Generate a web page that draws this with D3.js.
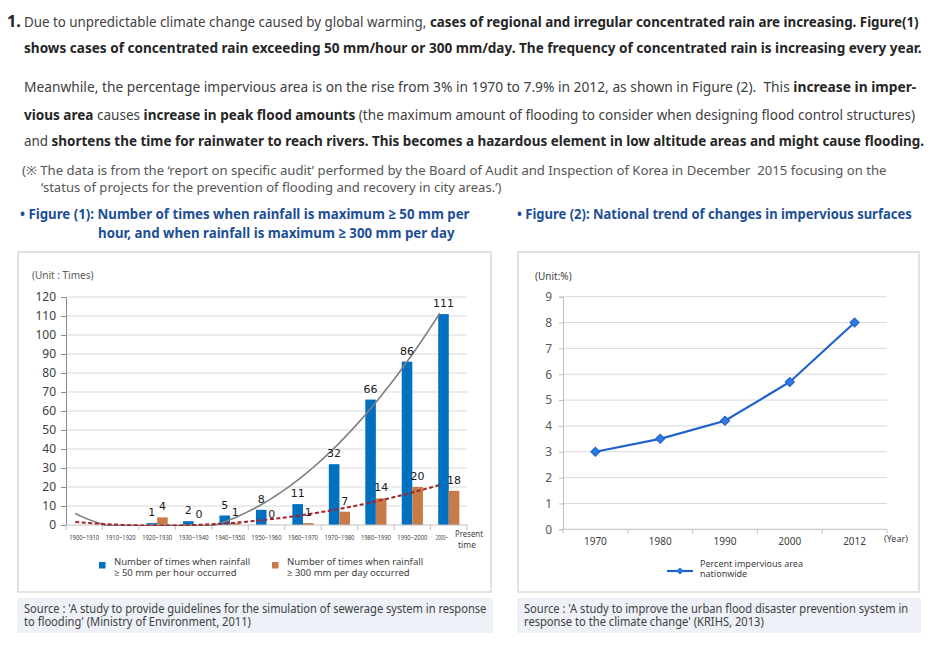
<!DOCTYPE html>
<html>
<head>
<meta charset="utf-8">
<script src="https://cdn.jsdelivr.net/npm/d3@7"></script>
<style>
  body { margin: 0; background: #fff; }
  svg { display: block; }
</style>
</head>
<body>
<div class="canvas"></div>
<script>
// figure (1) data
const periods = ["1900~1910", "1910~1920", "1920~1930", "1930~1940", "1940~1950", "1950~1960",
  "1960~1970", "1970~1980", "1980~1990", "1990~2000", "2000~"];
const over50PerHour = [0, 0, 1, 2, 5, 8, 11, 32, 66, 86, 111];
const over300PerDay = [0, 0, 4, 0, 1, 0, 1, 7, 14, 20, 18];
const hasRecord = [false, false, true, true, true, true, true, true, true, true, true];
const timesTicks = [0, 10, 20, 30, 40, 50, 60, 70, 80, 90, 100, 110, 120];

// figure (2) data
const years = ["1970", "1980", "1990", "2000", "2012"];
const impervious = [3.0, 3.5, 4.2, 5.7, 8.0];
const pctTicks = [0, 1, 2, 3, 4, 5, 6, 7, 8, 9];

const W = 940, H = 648;
const svg = d3.select(".canvas").append("svg").attr("width", W).attr("height", H);

const txt = "#404040";
const bold = "#262626";
const bodyFont = "'Noto Sans', 'Open Sans', sans-serif";
const chartFont = "'Noto Sans', 'Open Sans', sans-serif";

// squeeze a text horizontally so it spans w pixels (the source uses a narrow font)
function fit(t, x, y, w, anchor = "start") {
  const n = t.node().getComputedTextLength();
  const k = n > 0 ? w / n : 1;
  t.attr("x", 0).attr("y", 0).attr("text-anchor", anchor)
    .attr("transform", `translate(${x},${y}) scale(${k},1)`);
  return t;
}

// ---------- header paragraphs ----------
// each line: [x, baseline, width, size, colour, [ [text, isBold], ... ]]
const lines = [
  [24, 27, 896, 15, txt, [["Due to unpredictable climate change caused by global warming, ", false],
    ["cases of regional and irregular concentrated rain are increasing. Figure(1)", true]]],
  [24, 53, 898, 15, txt, [["shows cases of concentrated rain exceeding 50 mm/hour or 300 mm/day. The frequency of concentrated rain is increasing every year.", true]]],
  [24, 92, 893, 15, txt, [["Meanwhile, the percentage impervious area is on the rise from 3% in 1970 to 7.9% in 2012, as shown in Figure (2).  This ", false],
    ["increase in imper-", true]]],
  [24, 120, 892, 15, txt, [["vious area", true], [" causes ", false], ["increase in peak flood amounts", true],
    [" (the maximum amount of flooding to consider when designing flood control structures)", false]]],
  [24, 146, 901, 15, txt, [["and ", false],
    ["shortens the time for rainwater to reach rivers. This becomes a hazardous element in low altitude areas and might cause flooding.", true]]],
  [22, 175, 866, 13, "#555", [["(※ The data is from the ‘report on specific audit’ performed by the Board of Audit and Inspection of Korea in December  2015 focusing on the", false]]],
  [41, 192, 461, 13, "#555", [["‘status of projects for the prevention of flooding and recovery in city areas.’)", false]]],
];

fit(svg.append("text").attr("font-family", bodyFont).attr("font-size", 16)
  .attr("font-weight", "bold").attr("fill", bold).text("1."), 7, 27, 14);

lines.forEach(([x, y, w, size, col, parts]) => {
  const t = svg.append("text").attr("font-family", bodyFont)
    .attr("font-size", size).attr("fill", col).style("white-space", "pre");
  parts.forEach(([s, b]) => {
    t.append("tspan").attr("font-weight", b ? "bold" : "normal").attr("fill", b ? bold : col).text(s);
  });
  fit(t, x, y, w);
});

// figure titles
const titleCol = "#1d4f96";
const titles = [
  [20, 219, 450, "• Figure (1): Number of times when rainfall is maximum ≥ 50 mm per"],
  [98, 238, 357, "hour, and when rainfall is maximum ≥ 300 mm per day"],
  [517, 219, 395, "• Figure (2): National trend of changes in impervious surfaces"],
];
titles.forEach(([x, y, w, s]) => {
  fit(svg.append("text").attr("font-family", bodyFont).attr("font-size", 14.5)
    .attr("font-weight", "bold").attr("fill", titleCol).text(s), x, y, w);
});

// ---------- panels and source boxes ----------
const panels = [[18, 252, 473, 340], [518, 252, 401, 340]];
panels.forEach(([x, y, w, h]) => {
  svg.append("rect").attr("x", x).attr("y", y).attr("width", w).attr("height", h)
    .attr("fill", "#fff").attr("stroke", "#d9d9d9").attr("stroke-width", 1.5);
});

const sources = [
  [17, 476, ["Source : 'A study to provide guidelines for the simulation of sewerage system in response", "to flooding' (Ministry of Environment, 2011)"], [463, 227]],
  [517, 404, ["Source : 'A study to improve the urban flood disaster prevention system in", "response to the climate change' (KRIHS, 2013)"], [385, 240]],
];
sources.forEach(([x, w, ls, lens]) => {
  svg.append("rect").attr("x", x).attr("y", 598).attr("width", w).attr("height", 35).attr("fill", "#eef2f8");
  ls.forEach((s, i) => {
    fit(svg.append("text").attr("font-family", chartFont).attr("font-size", 12).attr("fill", txt).text(s),
      x + 7, 613 + i * 13, lens[i]);
  });
});

// ---------- figure (1): clustered bars ----------
const p1 = { left: 66, right: 467, top: 297, bottom: 525 };
const x = d3.scaleBand().domain(periods).range([p1.left, p1.right]);
const bw = x.bandwidth();
const series = ["hour", "day"];
const x1 = d3.scaleBand().domain(series).range([bw * 0.21, bw * 0.79]);
const y = d3.scaleLinear().domain([0, 120]).range([p1.bottom, p1.top]);
const colour = d3.scaleOrdinal().domain(series).range(["#0070c0", "#c87b48"]);

const g1 = svg.append("g");

// gridlines
g1.selectAll("line.grid").data(timesTicks.slice(1)).enter().append("line")
  .attr("x1", p1.left).attr("x2", p1.right).attr("y1", d => y(d)).attr("y2", d => y(d))
  .attr("stroke", "#d9d9d9").attr("stroke-width", 1);

const yAxis1 = g1.append("g").attr("transform", `translate(${p1.left},0)`)
  .call(d3.axisLeft(y).tickValues(timesTicks).tickSize(5).tickPadding(5));
yAxis1.select(".domain").attr("stroke", "#8c8c8c");
yAxis1.selectAll(".tick line").attr("stroke", "#8c8c8c");
yAxis1.selectAll("text").attr("font-family", chartFont).attr("font-size", 12).attr("fill", txt);

// bars
const rows = periods.map((p, i) => ({ p, i, hour: over50PerHour[i], day: over300PerDay[i] }));
const groups = g1.selectAll("g.cat").data(rows).enter().append("g")
  .attr("transform", d => `translate(${x(d.p)},0)`);
groups.selectAll("rect").data(d => series.map(k => ({ k, v: d[k] }))).enter().append("rect")
  .attr("x", d => x1(d.k)).attr("width", x1.bandwidth())
  .attr("y", d => y(d.v)).attr("height", d => y(0) - y(d.v))
  .attr("fill", d => colour(d.k));

// x axis (ticks between categories)
g1.append("line").attr("x1", p1.left).attr("x2", p1.right).attr("y1", p1.bottom).attr("y2", p1.bottom)
  .attr("stroke", "#bfbfbf");
g1.selectAll("line.xt").data(periods.concat(["end"])).enter().append("line")
  .attr("x1", (d, i) => p1.left + i * bw).attr("x2", (d, i) => p1.left + i * bw)
  .attr("y1", p1.bottom).attr("y2", p1.bottom + 5).attr("stroke", "#bfbfbf");
g1.selectAll("text.xl").data(periods).enter().append("text")
  .attr("font-family", chartFont).attr("font-size", 6.5).attr("fill", txt).text(d => d)
  .each(function (d) {
    const last = d === "2000~";
    fit(d3.select(this), x(d) + bw / 2 - (last ? 7 : 0), 540, last ? 12 : 30, "middle");
  });
fit(g1.append("text").attr("font-family", chartFont).attr("font-size", 9.5).attr("fill", txt).text("Present"),
  455, 537, 28);
fit(g1.append("text").attr("font-family", chartFont).attr("font-size", 9.5).attr("fill", txt).text("time"),
  458, 548, 18);

// least squares quadratic trendline (like the spreadsheet's polynomial trendline)
function polyfit2(vals) {
  const n = vals.length;
  const m = (n - 1) / 2;
  let s2 = 0, s4 = 0, sy = 0, sty = 0, st2y = 0;
  vals.forEach((v, i) => {
    const t = i - m;
    s2 += t * t; s4 += t ** 4; sy += v; sty += t * v; st2y += t * t * v;
  });
  const b = sty / s2;
  const c = (st2y - s2 * sy / n) / (s4 - s2 * s2 / n);
  const a = (sy - c * s2) / n;
  return (i) => a + b * (i - m) + c * (i - m) ** 2;
}

svg.append("clipPath").attr("id", "plot1").append("rect")
  .attr("x", p1.left).attr("y", p1.top).attr("width", p1.right - p1.left).attr("height", p1.bottom - p1.top + 1);

const trendX = (i) => p1.left + bw / 2 - 9 + i * bw;
const steps = d3.range(0, periods.length - 1 + 0.001, 0.1);
const trendLine = (fit) => d3.line().x(t => trendX(t)).y(t => y(Math.max(-0.3, fit(t))))(steps);

g1.append("path").attr("d", trendLine(polyfit2(over50PerHour))).attr("clip-path", "url(#plot1)")
  .attr("fill", "none").attr("stroke", "#7f7f7f").attr("stroke-width", 1.6);
g1.append("path").attr("d", trendLine(polyfit2(over300PerDay))).attr("clip-path", "url(#plot1)")
  .attr("fill", "none").attr("stroke", "#a0262a").attr("stroke-width", 2).attr("stroke-dasharray", "4,2.5");

// value labels
rows.filter(d => hasRecord[d.i]).forEach(d => {
  series.forEach(k => {
    g1.append("text").attr("x", x(d.p) + x1(k) + x1.bandwidth() / 2).attr("y", y(d[k]) - 7)
      .attr("text-anchor", "middle").attr("font-family", "'DejaVu Sans', sans-serif")
      .attr("font-size", 11).attr("fill", "#1a1a1a").text(d[k]);
  });
});

g1.append("text").attr("x", 32).attr("y", 279).attr("font-family", chartFont).attr("font-size", 10)
  .attr("fill", "#595959").text("(Unit : Times)");

// legend
const leg1 = [
  [99, "hour", ["Number of times when rainfall", "≥ 50 mm per hour occurred"]],
  [272, "day", ["Number of times when rainfall", "≥ 300 mm per day occurred"]],
];
leg1.forEach(([lx, k, ls]) => {
  g1.append("rect").attr("x", lx).attr("y", 562).attr("width", 6.5).attr("height", 6.5).attr("fill", colour(k));
  ls.forEach((s, i) => {
    g1.append("text").attr("x", lx + 15).attr("y", 565 + i * 10.5).attr("font-family", chartFont)
      .attr("font-size", 9.5).attr("fill", txt).text(s);
  });
});

// ---------- figure (2): line chart ----------
const p2 = { left: 563, right: 887, top: 296.7, bottom: 529.3 };
const xb = d3.scaleBand().domain(years).range([p2.left, p2.right]);
const y2 = d3.scaleLinear().domain([0, 9]).range([p2.bottom, p2.top]);
const g2 = svg.append("g");

g2.selectAll("line.grid").data(pctTicks.slice(1)).enter().append("line")
  .attr("x1", p2.left).attr("x2", p2.right).attr("y1", d => y2(d)).attr("y2", d => y2(d))
  .attr("stroke", "#d9d9d9");

const yAxis2 = g2.append("g").attr("transform", `translate(${p2.left},0)`)
  .call(d3.axisLeft(y2).tickValues(pctTicks).tickSize(4).tickPadding(7));
yAxis2.select(".domain").attr("stroke", "#bfbfbf");
yAxis2.selectAll(".tick line").attr("stroke", "#bfbfbf");
yAxis2.selectAll("text").attr("font-family", chartFont).attr("font-size", 12).attr("fill", "#595959");

g2.append("line").attr("x1", p2.left).attr("x2", p2.right).attr("y1", p2.bottom).attr("y2", p2.bottom)
  .attr("stroke", "#bfbfbf");
g2.selectAll("line.xt").data(years.concat(["end"])).enter().append("line")
  .attr("x1", (d, i) => p2.left + i * xb.bandwidth()).attr("x2", (d, i) => p2.left + i * xb.bandwidth())
  .attr("y1", p2.bottom).attr("y2", p2.bottom + 4).attr("stroke", "#bfbfbf");
g2.selectAll("text.xl").data(years).enter().append("text")
  .attr("x", d => xb(d) + xb.bandwidth() / 2).attr("y", 545).attr("text-anchor", "middle")
  .attr("font-family", chartFont).attr("font-size", 10).attr("fill", txt).text(d => d);
g2.append("text").attr("x", 884).attr("y", 542).attr("font-family", chartFont).attr("font-size", 9)
  .attr("fill", txt).text("(Year)");
g2.append("text").attr("x", 535).attr("y", 280).attr("font-family", chartFont).attr("font-size", 10)
  .attr("fill", txt).text("(Unit:%)");

const lineCol = "#1f62cc";
const pts = years.map((yr, i) => ({ yr, v: impervious[i] }));
g2.append("path").attr("d", d3.line().x(d => xb(d.yr) + xb.bandwidth() / 2).y(d => y2(d.v))(pts))
  .attr("fill", "none").attr("stroke", lineCol).attr("stroke-width", 2.2);
const diamond = d3.symbol().type(d3.symbolDiamond2).size(50);
g2.selectAll("path.pt").data(pts).enter().append("path")
  .attr("d", diamond).attr("transform", d => `translate(${xb(d.yr) + xb.bandwidth() / 2},${y2(d.v)})`)
  .attr("fill", "#2f7be0").attr("stroke", lineCol).attr("stroke-width", 1.2);

// legend
g2.append("line").attr("x1", 667).attr("x2", 693).attr("y1", 571).attr("y2", 571)
  .attr("stroke", lineCol).attr("stroke-width", 2.2);
g2.append("path").attr("d", d3.symbol().type(d3.symbolDiamond2).size(24))
  .attr("transform", "translate(680,571)").attr("fill", "#2f7be0").attr("stroke", lineCol);
["Percent impervious area", "nationwide"].forEach((s, i) => {
  g2.append("text").attr("x", 700).attr("y", 567 + i * 10).attr("font-family", chartFont)
    .attr("font-size", 9).attr("fill", txt).text(s);
});
</script>
</body>
</html>
